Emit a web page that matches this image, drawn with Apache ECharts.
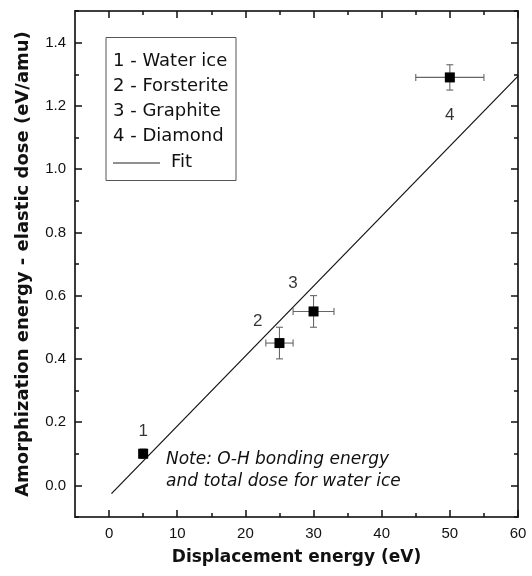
<!DOCTYPE html>
<html>
<head>
<meta charset="utf-8">
<script src="https://cdn.jsdelivr.net/npm/echarts@6/dist/echarts.min.js"></script>
<style>
html,body{margin:0;padding:0;background:#fff;}
#chart{width:532px;height:576px;}
</style>
</head>
<body>
<div id="chart"></div>
<script>
// ---- data ----
const pointNames = ['1', '2', '3', '4'];
const dispEnergy = [5, 25, 30, 50];
const amorphDose = [0.10, 0.45, 0.55, 1.29];
const dispErr = [0.5, 2, 3, 5];
const doseErr = [0.015, 0.05, 0.05, 0.04];
const labelX = [5, 21.8, 27, 50];
const labelY = [0.17, 0.52, 0.64, 1.17];
const fitX = [0.35, 60];
const fitY = [-0.026, 1.294];
const xMajorTicks = [0, 10, 20, 30, 40, 50, 60];
const xMinorTicks = [5, 15, 25, 35, 45, 55];
const yMajorTicks = [0.0, 0.2, 0.4, 0.6, 0.8, 1.0, 1.2, 1.4];
const yMinorTicks = [-0.1, 0.1, 0.3, 0.5, 0.7, 0.9, 1.1, 1.3, 1.5];
const legendLines = ['1 - Water ice', '2 - Forsterite', '3 - Graphite', '4 - Diamond'];
const noteLines = ['Note: O-H bonding energy', 'and total dose for water ice'];

const FONT = 'DejaVu Sans';
const TICKFONT = 'Liberation Sans';
const AX = '#333';

function xAx(pos, ticks, len, labels, extra) {
  return Object.assign({
    type: 'value', position: pos, min: -5, max: 60,
    axisLine: { show: true, onZero: false, lineStyle: { color: AX, width: 1.6 } },
    axisTick: { show: true, inside: true, length: len, customValues: ticks, lineStyle: { color: '#111', width: 1.5 } },
    axisLabel: labels ? { show: true, customValues: ticks, color: '#111', fontFamily: TICKFONT, fontSize: 15, margin: 9 } : { show: false },
    splitLine: { show: false }
  }, extra || {});
}
function yAx(pos, ticks, len, labels, extra) {
  return Object.assign({
    type: 'value', position: pos, min: -0.1, max: 1.5,
    axisLine: { show: true, onZero: false, lineStyle: { color: AX, width: 1.6 } },
    axisTick: { show: true, inside: true, length: len, customValues: ticks, lineStyle: { color: '#111', width: 1.5 } },
    axisLabel: labels ? { show: true, customValues: ticks, color: '#111', fontFamily: TICKFONT, fontSize: 15, margin: 9,
      formatter: v => Number(v).toFixed(1) } : { show: false },
    splitLine: { show: false }
  }, extra || {});
}

const chart = echarts.init(document.getElementById('chart'), null, { renderer: 'canvas' });

const legendChildren = [
  { type: 'rect', shape: { x: 106, y: 37.5, width: 130, height: 143 },
    style: { fill: '#fff', stroke: '#555', lineWidth: 1 } }
];
legendLines.forEach((t, i) => {
  legendChildren.push({ type: 'text', x: 113, y: 61 + i * 25,
    style: { text: t, fontFamily: FONT, fontSize: 18, fill: '#111', verticalAlign: 'middle', align: 'left' } });
});
legendChildren.push({ type: 'line', shape: { x1: 113, y1: 163, x2: 160, y2: 163 },
  style: { stroke: '#222', lineWidth: 1 } });
legendChildren.push({ type: 'text', x: 171, y: 162,
  style: { text: 'Fit', fontFamily: FONT, fontSize: 18, fill: '#111', verticalAlign: 'middle', align: 'left' } });

const noteChildren = noteLines.map((t, i) => ({
  type: 'text', x: 166, y: 460 + i * 22,
  style: { text: t, fontFamily: FONT, fontSize: 17, fontStyle: 'italic', fill: '#111', verticalAlign: 'middle', align: 'left' }
}));

const option = {
  backgroundColor: '#fff',
  animation: false,
  grid: { left: 75, right: 14, top: 11, bottom: 59, containLabel: false },
  xAxis: [
    xAx('bottom', xMajorTicks, 7, true, {
      name: 'Displacement energy (eV)', nameLocation: 'middle', nameGap: 32,
      nameTextStyle: { fontFamily: FONT, fontSize: 17, fontWeight: 'bold', color: '#111' }
    }),
    xAx('bottom', xMinorTicks, 4, false),
    xAx('top', xMajorTicks, 7, false),
    xAx('top', xMinorTicks, 4, false)
  ],
  yAxis: [
    yAx('left', yMajorTicks, 7, true, {
      name: 'Amorphization energy - elastic dose (eV/amu)', nameLocation: 'middle', nameGap: 43, nameRotate: 90,
      nameTextStyle: { fontFamily: FONT, fontSize: 18, fontWeight: 'bold', color: '#111' }
    }),
    yAx('left', yMinorTicks, 4, false),
    yAx('right', yMajorTicks, 7, false),
    yAx('right', yMinorTicks, 4, false)
  ],
  series: [
    {
      type: 'line', name: 'Fit', xAxisIndex: 0, yAxisIndex: 0,
      data: fitX.map((x, i) => [x, fitY[i]]),
      showSymbol: false, symbol: 'none',
      lineStyle: { color: '#111', width: 1.2 }, z: 2
    },
    {
      type: 'custom', name: 'errors', xAxisIndex: 0, yAxisIndex: 0,
      data: dispEnergy.map((x, i) => [x, amorphDose[i], dispErr[i], doseErr[i]]),
      renderItem: function (params, api) {
        const x = api.value(0), y = api.value(1), ex = api.value(2), ey = api.value(3);
        const l = api.coord([x - ex, y]), r = api.coord([x + ex, y]);
        const t = api.coord([x, y + ey]), b = api.coord([x, y - ey]);
        const cap = 3.5;
        const st = { stroke: '#666', lineWidth: 1.1 };
        return {
          type: 'group', children: [
            { type: 'line', shape: { x1: l[0], y1: l[1], x2: r[0], y2: r[1] }, style: st },
            { type: 'line', shape: { x1: t[0], y1: t[1], x2: b[0], y2: b[1] }, style: st },
            { type: 'line', shape: { x1: l[0], y1: l[1] - cap, x2: l[0], y2: l[1] + cap }, style: st },
            { type: 'line', shape: { x1: r[0], y1: r[1] - cap, x2: r[0], y2: r[1] + cap }, style: st },
            { type: 'line', shape: { x1: t[0] - cap, y1: t[1], x2: t[0] + cap, y2: t[1] }, style: st },
            { type: 'line', shape: { x1: b[0] - cap, y1: b[1], x2: b[0] + cap, y2: b[1] }, style: st }
          ]
        };
      },
      z: 3
    },
    {
      type: 'scatter', name: 'points', xAxisIndex: 0, yAxisIndex: 0,
      data: dispEnergy.map((x, i) => [x, amorphDose[i]]),
      symbol: 'rect', symbolSize: 10,
      itemStyle: { color: '#000', opacity: 1 }, z: 4
    },
    {
      type: 'scatter', name: 'labels', xAxisIndex: 0, yAxisIndex: 0,
      data: labelX.map((x, i) => ({ value: [x, labelY[i]], name: pointNames[i] })),
      symbolSize: 0, silent: true,
      label: { show: true, position: 'inside', formatter: p => p.name,
        fontFamily: TICKFONT, fontSize: 17, color: '#000' }, z: 5
    }
  ],
  graphic: [
    { type: 'group', children: legendChildren },
    { type: 'group', children: noteChildren }
  ]
};
chart.setOption(option);
</script>
</body>
</html>
